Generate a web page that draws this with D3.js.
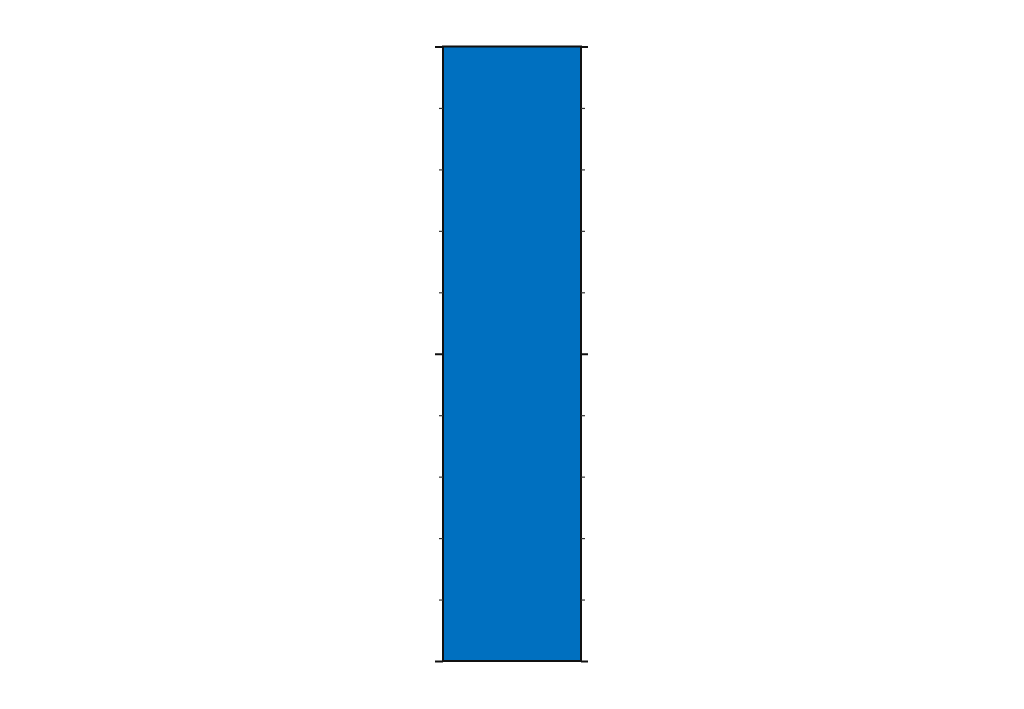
<!DOCTYPE html>
<html>
<head>
<meta charset="utf-8">
<title>Single bar</title>
<script src="https://cdn.jsdelivr.net/npm/d3@7"></script>
<style>
  body { margin: 0; background: #fff; }
  svg { display: block; }
</style>
</head>
<body>
<svg></svg>
<script>
const WIDTH = 1024;
const HEIGHT = 709;

// data
var categories = ["A"];
var values = [1];
var majorTicks = [0, 0.5, 1];
var minorTicks = [0.1, 0.2, 0.3, 0.4, 0.6, 0.7, 0.8, 0.9];

var svg = d3.select("svg")
    .attr("width", WIDTH)
    .attr("height", HEIGHT);

// plot box (note: "top" is window.top, so don't use it)
var plotLeft = 443, plotRight = 581, plotTop = 46.5, plotBottom = 661;

var x = d3.scaleBand()
    .domain(categories)
    .range([plotLeft, plotRight])
    .padding(0);

var y = d3.scaleLinear()
    .domain([0, 1])
    .range([plotBottom, plotTop]);

// bar
svg.selectAll("rect.bar")
    .data(values)
    .enter()
    .append("rect")
    .attr("class", "bar")
    .attr("x", (d, i) => x(categories[i]))
    .attr("width", x.bandwidth())
    .attr("y", d => y(d))
    .attr("height", d => y(0) - y(d))
    .attr("fill", "#0070c0")
    .attr("stroke", "#111")
    .attr("stroke-width", 2);

// ticks on both sides, no labels
function addAxis(axisFn, xpos, tickVals, size, width, colour) {
    var g = svg.append("g")
        .attr("transform", "translate(" + xpos + ",0)")
        .call(axisFn(y).tickValues(tickVals).tickSize(size).tickFormat("").tickSizeOuter(0));
    g.select(".domain").remove();
    g.selectAll("line").attr("stroke", colour).attr("stroke-width", width);
    return g;
}

addAxis(d3.axisLeft, plotLeft, minorTicks, 4, 1.2, "#333");
addAxis(d3.axisRight, plotRight, minorTicks, 4, 1.2, "#333");
addAxis(d3.axisLeft, plotLeft, majorTicks, 8, 2, "#111");
addAxis(d3.axisRight, plotRight, majorTicks, 7, 2, "#111");
</script>
</body>
</html>
